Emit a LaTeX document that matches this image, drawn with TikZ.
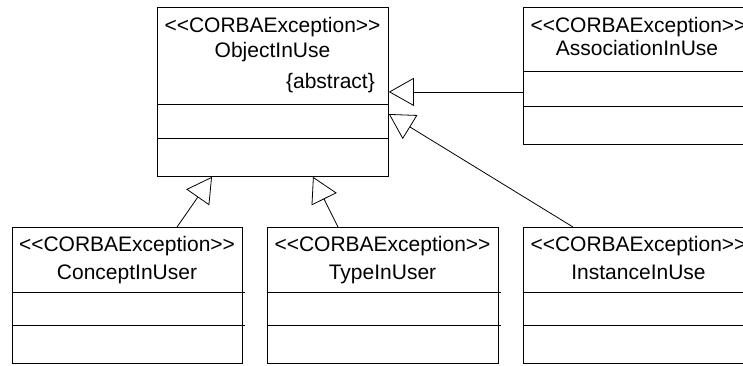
\documentclass[tikz,border=0pt]{standalone}
\usepackage{fontspec}
\setmainfont{Liberation Sans}
\usetikzlibrary{arrows.meta,calc}
% stereotype label, with the angle brackets kept apart from ligatures
\newcommand{\corbastereo}{<{}<CORBAException>{}>}
\tikzset{
  classbox/.style={draw, line width=0.8pt, rectangle, inner sep=0pt,
    anchor=north west, minimum width=231, minimum height=137},
  label/.style={inner sep=0pt, anchor=base,
    font=\fontsize{21}{24}\selectfont},
  compart/.style={line width=0.8pt},
  generalize/.style={line width=0.8pt,
    -{Triangle[open, length=25pt, width=28pt, line width=0.8pt]}},
}
\begin{document}
\begin{tikzpicture}[x=1pt, y=-1pt]
  \fill[white] (0,0) rectangle (743,365);
  \useasboundingbox (0,0) rectangle (743,365);
  \clip (0,0) rectangle (743,365);

  % abstract base class
  \node[classbox, minimum height=169] (obj) at (157,7) {};
  \node[label] (objS) at (272.5,32) {\corbastereo};
  \node[label] (objN) at (272.5,57) {ObjectInUse};
  \node[label, anchor=base east] (objA) at (375,88) {\{abstract\}};
  \draw[compart] ($(obj.north west)+(0,97)$) -- ($(obj.north east)+(0,97)$);
  \draw[compart] ($(obj.north west)+(0,131)$) -- ($(obj.north east)+(0,131)$);

  % AssociationInUse
  \node[classbox] (assoc) at (523,7) {};
  \node[label] (assocS) at (638.5,32) {\corbastereo};
  \node[label] (assocN) at (637,55) {AssociationInUse};
  \draw[compart] ($(assoc.north west)+(0,64)$) -- ($(assoc.north east)+(0,64)$);
  \draw[compart] ($(assoc.north west)+(0,99)$) -- ($(assoc.north east)+(0,99)$);

  % ConceptInUser
  \node[classbox, minimum width=230, minimum height=136] (concept) at (12,227) {};
  \node[label] (conceptS) at (127,251) {\corbastereo};
  \node[label] (conceptN) at (127,279) {ConceptInUser};
  \draw[compart] ($(concept.north west)+(0,65)$) -- ($(concept.north east)+(2,65)$);
  \draw[compart] ($(concept.north west)+(0,98)$) -- ($(concept.north east)+(2,98)$);

  % TypeInUser
  \node[classbox, minimum height=136] (type) at (267,227) {};
  \node[label] (typeS) at (382.5,251) {\corbastereo};
  \node[label] (typeN) at (382.5,279) {TypeInUser};
  \draw[compart] ($(type.north west)+(0,65)$) -- ($(type.north east)+(2,65)$);
  \draw[compart] ($(type.north west)+(0,98)$) -- ($(type.north east)+(2,98)$);

  % InstanceInUse
  \node[classbox, minimum height=136] (inst) at (523,227) {};
  \node[label] (instS) at (638.5,251) {\corbastereo};
  \node[label] (instN) at (638.5,279) {InstanceInUse};
  \draw[compart] ($(inst.north west)+(0,65)$) -- ($(inst.north east)+(0,65)$);
  \draw[compart] ($(inst.north west)+(0,98)$) -- ($(inst.north east)+(0,98)$);

  % generalizations
  \draw[generalize] (assoc.west |- obj.east) -- (obj.east);
  \draw[generalize] ($(inst.north west)+(50,0)$) -- ($(obj.north east)+(0,107)$);
  \draw[generalize] ($(concept.north west)+(165,0)$) -- ($(obj.south west)+(55,0)$);
  \draw[generalize] ($(type.north west)+(71,0)$) -- ($(obj.south west)+(156,0)$);
\end{tikzpicture}
\end{document}
